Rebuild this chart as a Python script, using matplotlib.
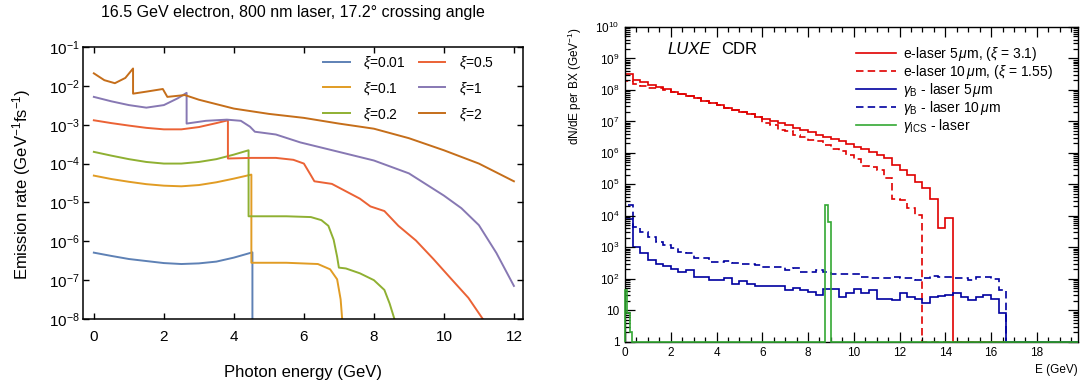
import numpy as np
import matplotlib
matplotlib.use("Agg")
import matplotlib.pyplot as plt
from matplotlib.ticker import FixedLocator, MultipleLocator, LogLocator, NullFormatter

plt.rcParams['font.family'] = ['Liberation Sans', 'DejaVu Sans']
plt.rcParams['mathtext.fontset'] = 'custom'
plt.rcParams['mathtext.rm'] = 'Liberation Sans'
plt.rcParams['mathtext.it'] = 'Liberation Sans:italic'
plt.rcParams['mathtext.bf'] = 'Liberation Sans:bold'

# ---- left panel: emission rate vs photon energy, one curve per xi ----
xi_labels = ['0.01', '0.1', '0.2', '0.5', '1', '2']
xi_colors = ['#5e81b5', '#e19c24', '#8fb032', '#eb6235', '#8778b3', '#c56e1a']

e_xi001 = [0, 0.5, 1.0, 1.5, 2.0, 2.5, 3.0, 3.5, 4.0, 4.53, 4.53]
r_xi001 = [5.1e-7, 4.2e-7, 3.5e-7, 3.1e-7, 2.75e-7, 2.6e-7, 2.7e-7, 3.0e-7, 3.8e-7, 5.2e-7, 1e-9]

e_xi01 = [0, 0.5, 1, 1.5, 2, 2.5, 3, 3.5, 4, 4.5, 4.5, 5.5, 6.4, 6.75, 6.95, 7.05, 7.12]
r_xi01 = [4.9e-5, 4.0e-5, 3.4e-5, 2.95e-5, 2.7e-5, 2.6e-5, 2.8e-5, 3.3e-5, 4.1e-5, 5.2e-5,
          2.8e-7, 2.8e-7, 2.6e-7, 1.9e-7, 1.05e-7, 3.2e-8, 5e-9]

e_xi02 = [0, 0.5, 1, 1.5, 2, 2.5, 3, 3.5, 4, 4.42, 4.42, 5.5, 6.2, 6.5, 6.7, 6.85, 6.95,
          7.0, 7.2, 7.6, 8.0, 8.3, 8.45, 8.62]
r_xi02 = [2.0e-4, 1.6e-4, 1.3e-4, 1.1e-4, 1.0e-4, 1.0e-4, 1.1e-4, 1.3e-4, 1.7e-4, 2.2e-4,
          4.4e-6, 4.4e-6, 4.2e-6, 3.5e-6, 2.5e-6, 1.1e-6, 4.0e-7, 2.1e-7, 2.0e-7, 1.5e-7,
          1.0e-7, 5.6e-8, 2.5e-8, 8e-9]

e_xi05 = [0, 0.5, 1, 1.5, 2, 2.5, 3, 3.5, 3.83, 3.83, 4.5, 5.2, 5.7, 6.0, 6.2, 6.3, 6.8,
          7.6, 7.9, 8.3, 8.7, 9.2, 9.7, 10.2, 10.7, 11.15]
r_xi05 = [1.3e-3, 1.1e-3, 9.5e-4, 8.3e-4, 7.6e-4, 7.6e-4, 8.7e-4, 1.1e-3, 1.3e-3, 1.35e-4,
          1.4e-4, 1.4e-4, 1.25e-4, 1.0e-4, 5.0e-5, 3.5e-5, 3.0e-5, 1.25e-5, 7.9e-6, 6.0e-6,
          2.5e-6, 1.05e-6, 3.5e-7, 1.1e-7, 3.5e-8, 8.9e-9]

e_xi1 = [0, 0.5, 1, 1.5, 2, 2.4, 2.65, 2.65, 3.2, 3.8, 4.2, 4.46, 4.6, 5.2, 5.9, 7.0, 8.0,
         9.0, 10.0, 10.5, 11.0, 11.5, 12.0]
r_xi1 = [5.2e-3, 4.0e-3, 3.2e-3, 2.75e-3, 3.2e-3, 4.8e-3, 6.6e-3, 1.07e-3, 1.26e-3, 1.35e-3,
         1.26e-3, 8.9e-4, 6.6e-4, 5.6e-4, 3.5e-4, 2.0e-4, 1.2e-4, 5.6e-5, 1.5e-5, 7.1e-6,
         2.6e-6, 5.0e-7, 7.1e-8]

e_xi2 = [0, 0.3, 0.6, 0.9, 1.12, 1.12, 1.5, 1.97, 2.1, 2.6, 3.0, 4.0, 5.0, 6.0, 7.0, 8.0,
         9.0, 10.0, 11.0, 12.0]
r_xi2 = [2.1e-2, 1.4e-2, 1.17e-2, 1.6e-2, 2.8e-2, 6.3e-3, 7.1e-3, 8.3e-3, 5.2e-3, 5.8e-3,
         4.4e-3, 2.6e-3, 1.9e-3, 1.5e-3, 1.07e-3, 7.9e-4, 4.5e-4, 2.2e-4, 1.0e-4, 3.5e-5]

left_x = [e_xi001, e_xi01, e_xi02, e_xi05, e_xi1, e_xi2]
left_y = [r_xi001, r_xi01, r_xi02, r_xi05, r_xi1, r_xi2]

# ---- right panel: LUXE CDR spectra, log10 of counts per 1/3 GeV bin ----
bin_width = 1.0 / 3.0
n_bins = 60
red_5um_log = [8.50, 8.33, 8.24, 8.15, 8.08, 8.02, 7.95, 7.88, 7.80, 7.73, 7.66, 7.58, 7.52,
               7.44, 7.36, 7.29, 7.22, 7.15, 7.08, 7.02, 6.96, 6.88, 6.80, 6.73, 6.66, 6.58,
               6.50, 6.45, 6.38, 6.28, 6.20, 6.11, 6.04, 5.93, 5.83, 5.61, 5.46, 5.30, 5.08,
               4.87, 4.52, 3.62, 3.94]
red_10um_log = [8.28, 8.20, 8.12, 8.05, 8.05, 8.00, 7.95, 7.88, 7.80, 7.73, 7.66, 7.58, 7.52,
                7.44, 7.36, 7.29, 7.22, 7.13, 6.95, 6.88, 6.74, 6.68, 6.56, 6.52, 6.42, 6.38,
                6.25, 6.12, 6.05, 5.92, 5.80, 5.58, 5.55, 5.46, 5.19, 4.52, 4.50, 4.25, 4.03]
gb_5um_log = [3.90, 3.02, 2.81, 2.60, 2.47, 2.41, 2.30, 2.22, 2.28, 2.07, 2.07, 1.96, 1.96,
              2.01, 1.83, 1.94, 1.83, 1.77, 1.77, 1.77, 1.77, 1.64, 1.72, 1.64, 1.59, 1.48,
              1.66, 1.69, 1.43, 1.54, 1.67, 1.54, 1.64, 1.35, 1.35, 1.33, 1.54, 1.43, 1.35,
              1.22, 1.43, 1.46, 1.48, 1.56, 1.41, 1.33, 1.43, 1.48, 1.35, 0.92]
gb_10um_log = [4.35, 3.65, 3.50, 3.34, 3.18, 3.07, 2.97, 2.86, 2.83, 2.65, 2.65, 2.54, 2.54,
               2.57, 2.50, 2.47, 2.47, 2.44, 2.36, 2.38, 2.38, 2.28, 2.33, 2.22, 2.22, 2.28,
               2.20, 2.15, 2.15, 2.15, 2.15, 2.05, 2.01, 2.01, 2.01, 2.05, 2.01, 2.01, 1.96,
               2.01, 2.09, 2.05, 2.05, 2.01, 2.01, 1.96, 2.05, 2.05, 2.00, 1.64]
# gamma ICS histogram has its own fine binning
ics_edges = [0, 0.1, 0.2, 0.3, 8.75, 8.875, 9.0, 19.8]
ics_log = [1.64, 0.9, 0.3, 0, 4.34, 3.80, 0]

right_labels = [r'e-laser 5$\,\mu$m, ($\xi$ = 3.1)', r'e-laser 10$\,\mu$m, ($\xi$ = 1.55)',
                r'$\gamma_{\mathrm{B}}$ - laser 5$\,\mu$m', r'$\gamma_{\mathrm{B}}$ - laser 10$\,\mu$m',
                r'$\gamma_{\mathrm{ICS}}$ - laser']


def padded_counts(logs):
    """Turn the list of log10 bin heights into counts, empty bins sit at 1."""
    vals = np.zeros(n_bins)
    vals[:len(logs)] = logs
    return 10.0 ** vals


fig = plt.figure(figsize=(10.83, 3.87), dpi=100)

# ---------------- left panel ----------------
ax1 = fig.add_axes([83 / 1083, 1 - 319 / 387, 440 / 1083, 272 / 387])
for xs, ys, lab, col in zip(left_x, left_y, xi_labels, xi_colors):
    ax1.plot(xs, ys, color=col, lw=1.4, label=r'$\xi$=' + lab)
ax1.set_yscale('log')
ax1.set_xlim(-0.31, 12.26)
ax1.set_ylim(1e-8, 1e-1)
ax1.xaxis.set_major_locator(FixedLocator([0, 2, 4, 6, 8, 10, 12]))
ax1.yaxis.set_major_locator(FixedLocator([10.0 ** k for k in range(-8, 0)]))
ax1.yaxis.set_minor_locator(FixedLocator([]))
ax1.set_yticklabels([r'$10^{%d}$' % k for k in range(-8, 0)])
ax1.tick_params(which='both', direction='in', top=True, right=True, length=4.5, width=1.0)
ax1.tick_params(axis='x', labelsize=11, pad=8)
ax1.tick_params(axis='y', labelsize=11, pad=2.5)
for sp in ax1.spines.values():
    sp.set_linewidth(1.1)
ax1.legend(ncol=2, frameon=False, loc='upper left', bbox_to_anchor=(0.53, 1.0),
           borderpad=0, fontsize=10, handlelength=1.9, handletextpad=1.0,
           columnspacing=0.9, labelspacing=0.65)
fig.text(0.5 * (83 + 523) / 1083, 1 - 372 / 387, 'Photon energy (GeV)', ha='center',
         va='center', fontsize=12)
fig.text(22 / 1083, 1 - 184 / 387, r'Emission rate (GeV$^{-1}$fs$^{-1}$)', rotation=90,
         ha='center', va='center', fontsize=12)
fig.text(293 / 1083, 1 - 12 / 387,
         '16.5 GeV electron, 800 nm laser, 17.2\u00b0 crossing angle',
         ha='center', va='center', fontsize=11.5)

# ---------------- right panel ----------------
ax2 = fig.add_axes([625 / 1083, 1 - 341.7 / 387, 453 / 1083, 314.7 / 387])
edges = np.arange(n_bins + 1) * bin_width
red = '#e00000'
blue = '#0000a0'
green = '#33a833'
dash = (0, (4.5, 2.5))
ax2.stairs(padded_counts(red_5um_log), edges, baseline=1, color=red, lw=1.2,
           label=right_labels[0])
ax2.stairs(padded_counts(red_10um_log), edges, baseline=1, color=red, lw=1.2,
           linestyle=dash, label=right_labels[1])
ax2.stairs(padded_counts(gb_5um_log), edges, baseline=1, color=blue, lw=1.2,
           label=right_labels[2])
ax2.stairs(padded_counts(gb_10um_log), edges, baseline=1, color=blue, lw=1.2,
           linestyle=dash, label=right_labels[3])
ax2.stairs(10.0 ** np.array(ics_log), ics_edges, baseline=1, color=green, lw=1.2,
           zorder=3, clip_on=False, label=right_labels[4])
ax2.set_yscale('log')
ax2.set_xlim(0, 19.8)
ax2.set_ylim(1, 1e10)
ax2.xaxis.set_major_locator(MultipleLocator(2))
ax2.xaxis.set_minor_locator(MultipleLocator(0.5))
ax2.yaxis.set_major_locator(FixedLocator([10.0 ** k for k in range(0, 11)]))
ax2.yaxis.set_minor_locator(LogLocator(base=10, subs=np.arange(2, 10), numticks=20))
ax2.yaxis.set_minor_formatter(NullFormatter())
ax2.set_yticklabels(['1', '10'] + [r'$10^{%d}$' % k for k in range(2, 11)])
ax2.tick_params(which='both', direction='in', top=True, right=True, width=0.9)
ax2.tick_params(which='major', length=7)
ax2.tick_params(which='minor', length=3.5)
ax2.tick_params(axis='both', labelsize=8.5, pad=4)
for sp in ax2.spines.values():
    sp.set_linewidth(1.0)
ax2.legend(frameon=False, loc='upper left', bbox_to_anchor=(0.495, 0.965), borderpad=0,
           fontsize=10, handlelength=2.9, handletextpad=0.5, labelspacing=0.0)
ax2.text(0.093, 0.93, 'LUXE', style='italic', fontsize=12, transform=ax2.transAxes,
         va='center')
ax2.text(0.213, 0.93, 'CDR', fontsize=12, transform=ax2.transAxes, va='center')
fig.text(1078 / 1083, 1 - 370 / 387, 'E (GeV)', ha='right', va='center', fontsize=8.5)
fig.text(575 / 1083, 1 - 27 / 387, r'dN/dE per BX (GeV$^{-1}$)', rotation=90,
         ha='center', va='top', fontsize=8.5)

fig.savefig('out.png', dpi=100)
